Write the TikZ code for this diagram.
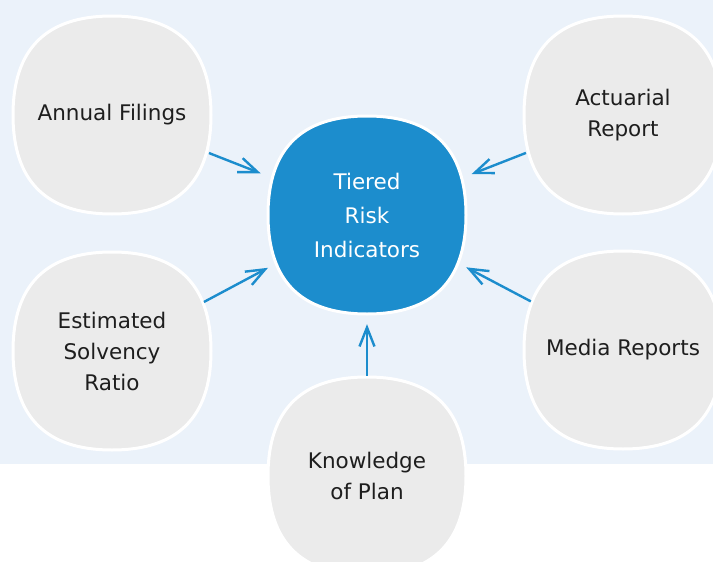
\documentclass[tikz,border=0pt]{standalone}
\usepackage{fontspec}
\setmainfont{DejaVu Sans}
\usetikzlibrary{arrows.meta,backgrounds}
\definecolor{bgblue}{HTML}{EBF2FA}
\definecolor{nodegray}{HTML}{EBEBEB}
\definecolor{mainblue}{HTML}{1C8DCD}
\definecolor{txt}{HTML}{1E1E1E}
\tikzset{
  hub/.style={circle, minimum size=200pt, inner sep=0pt, align=center,
    font=\fontsize{21.5}{31}\selectfont},
  graytxt/.style={hub, text=txt},
  bluetxt/.style={hub, text=white, font=\fontsize{21.5}{34}\selectfont},
  grayblob/.style={fill=nodegray, draw=white, line width=3pt},
  blueblob/.style={fill=mainblue, draw=white, line width=3pt},
  arr/.style={draw=mainblue, line width=2.4pt,
    -{Straight Barb[length=19pt, width=15pt, line width=2.4pt]}}
}
\newcommand\myblob[2]{%
  \begin{scope}[shift={(#1.center)}]
    \path[#2] (99,0) .. controls (99,66) and (66,99) .. (0,99)
      .. controls (-66,99) and (-99,66) .. (-99,0)
      .. controls (-99,-66) and (-66,-99) .. (0,-99)
      .. controls (66,-99) and (99,-66) .. (99,0) -- cycle;
  \end{scope}}
\begin{document}
\begin{tikzpicture}[x=1pt,y=-1pt]
  \useasboundingbox (0,0) rectangle (713,562);
  \node[graytxt] (af) at (112,115) {Annual Filings};
  \node[graytxt] (ar) at (623,115) {Actuarial\\Report};
  \node[bluetxt] (tr) at (367,215) {Tiered\\Risk\\Indicators};
  \node[graytxt] (es) at (112,351) {Estimated\\Solvency\\Ratio};
  \node[graytxt] (mr) at (623,350) {Media Reports};
  \node[graytxt] (kp) at (367,476) {Knowledge\\of Plan};
  \begin{scope}[on background layer]
    \fill[bgblue] (0,0) rectangle (713,464);
    \myblob{af}{grayblob}
    \myblob{ar}{grayblob}
    \myblob{tr}{blueblob}
    \myblob{es}{grayblob}
    \myblob{mr}{grayblob}
    \myblob{kp}{grayblob}
  \end{scope}
  \draw[arr, shorten <=4pt, shorten >=14pt] (af) -- (tr);
  \draw[arr, shorten <=4pt, shorten >=12pt] (ar) -- (tr);
  \draw[arr, shorten <=4pt, shorten >=12pt] (es) -- (tr);
  \draw[arr, shorten <=4pt, shorten >=12pt] (mr) -- (tr);
  \draw[arr, shorten <=0pt, shorten >=9pt] (kp) -- (tr);
\end{tikzpicture}
\end{document}
